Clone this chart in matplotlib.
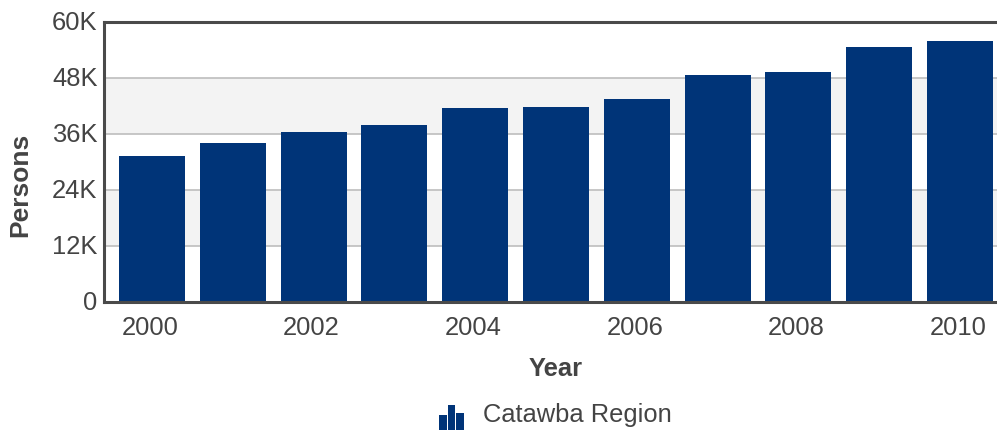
import matplotlib
matplotlib.use('Agg')
import matplotlib.pyplot as plt
import matplotlib.ticker as mticker
from matplotlib.transforms import ScaledTranslation

plt.rcParams['font.family'] = ['Liberation Sans', 'DejaVu Sans']

years = [2000, 2001, 2002, 2003, 2004, 2005, 2006, 2007, 2008, 2009, 2010]
persons = [31300, 34100, 36400, 37900, 41600, 41800, 43500, 48600, 49300, 54600, 55900]
y_ticks = [0, 12000, 24000, 36000, 48000, 60000]
y_labels = ['0', '12K', '24K', '36K', '48K', '60K']
x_ticks = [2000, 2002, 2004, 2006, 2008, 2010]
icon_heights = [0.6, 1.0, 0.7]
series_name = 'Catawba Region'

BLUE = '#003478'
TEXT = '#444444'
W, H = 997, 432
FS = 18.4

fig = plt.figure(figsize=(W / 100, H / 100), dpi=100)
ax = fig.add_axes([104 / W, 1 - 302 / H, (W - 104) / W, 280 / H])

# 交替灰色条带
ax.axhspan(12000, 24000, color='#f3f3f3', lw=0, zorder=0)
ax.axhspan(36000, 48000, color='#f3f3f3', lw=0, zorder=0)
for v in y_ticks[1:-1]:
    ax.axhline(v, color='#bdbdbd', lw=1.2, zorder=1)

ax.bar(years, persons, width=0.817, color=BLUE, zorder=2)

ax.set_xlim(2000 - 48 / 80.8, 2000 + 845 / 80.8)
ax.set_ylim(0, 60000)
ax.set_yticks(y_ticks)
ax.set_yticklabels(y_labels)
ax.set_xticks(x_ticks)
ax.xaxis.set_major_formatter(mticker.FormatStrFormatter('%d'))
ax.tick_params(axis='both', length=0, labelsize=FS, labelcolor=TEXT)
ax.tick_params(axis='x', pad=10)
ax.tick_params(axis='y', pad=4.6)

# 标签微调
for lab in ax.get_xticklabels():
    lab.set_transform(lab.get_transform() + ScaledTranslation(-2 / 100, 0, fig.dpi_scale_trans))
for lab in ax.get_yticklabels():
    lab.set_transform(lab.get_transform() + ScaledTranslation(0, 2 / 100, fig.dpi_scale_trans))

for side in ['left', 'top', 'bottom']:
    ax.spines[side].set_color('#4a4a4a')
    ax.spines[side].set_linewidth(2.2)
    ax.spines[side].set_zorder(3)
ax.spines['right'].set_visible(False)

fig.text(556 / W, 1 - 369 / H, 'Year', fontsize=FS, fontweight='bold', color=TEXT,
         ha='center', va='center')
fig.text(20 / W, 1 - 185 / H, 'Persons', fontsize=FS + 0.6, fontweight='bold', color=TEXT,
         rotation=90, ha='center', va='center')

# 图例
fig.text(483 / W, 1 - 415 / H, series_name, fontsize=FS, color=TEXT, ha='left', va='center')
icon = fig.add_axes([439 / W, 1 - 430 / H, 25 / W, 25 / H])
icon.bar(range(len(icon_heights)), icon_heights, width=0.92, color=BLUE)
icon.set_xlim(-0.5, 2.5)
icon.set_ylim(0, 1)
icon.axis('off')

plt.savefig('out.png', dpi=100)
